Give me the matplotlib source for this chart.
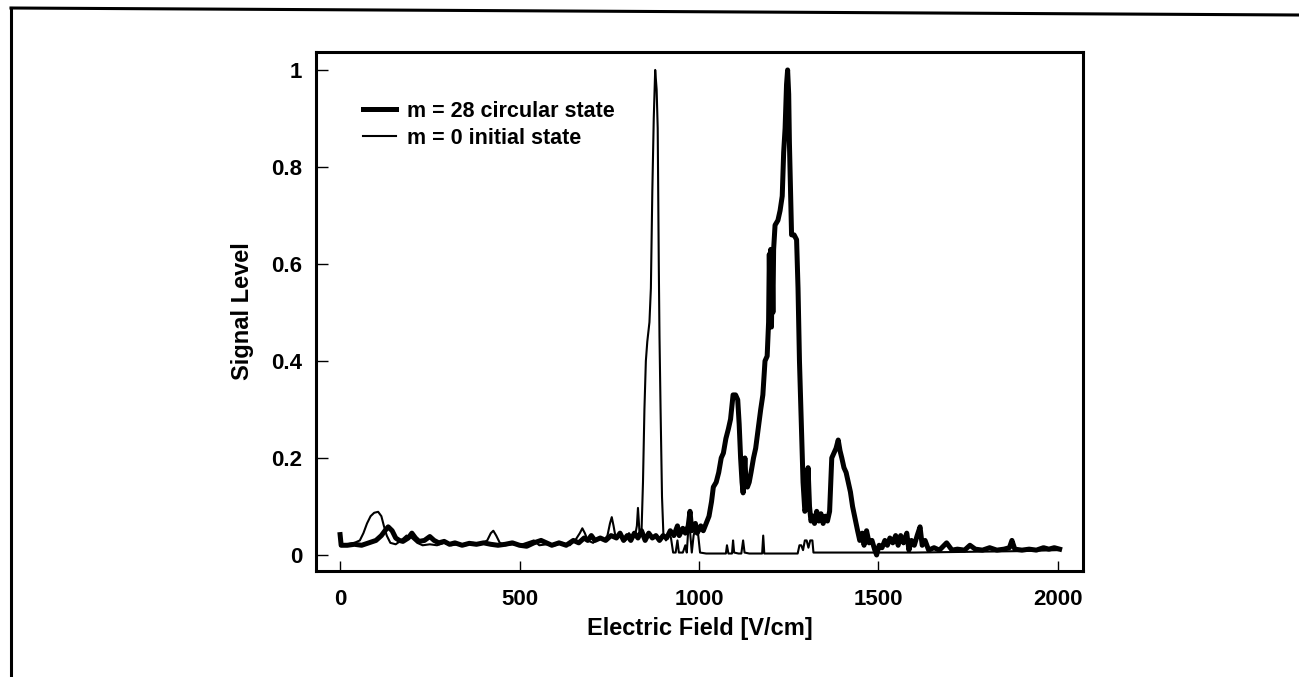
import matplotlib
matplotlib.use("Agg")
import matplotlib.pyplot as plt
from matplotlib.lines import Line2D

plt.rcParams['font.family'] = ['Liberation Sans', 'DejaVu Sans']
plt.rcParams['font.weight'] = 'bold'
plt.rcParams['axes.labelweight'] = 'bold'

# m = 28 circular state (field in V/cm, normalised signal)
field_circ = [0, 3, 20, 40, 60, 80, 100, 115, 125, 134, 145, 155, 165, 175, 190, 200,
              210, 220, 235, 250, 262, 275, 290, 305, 320, 340, 360, 380, 400, 420, 440,
              460, 480, 500, 520, 540, 560, 575, 590, 610, 630, 650, 665, 680, 690, 700,
              710, 725, 740, 755, 770, 780, 790, 800, 810, 820, 830, 840, 850, 860, 870,
              880, 890, 900, 910, 920, 930, 940, 945, 955, 962, 970, 975, 980, 990, 995,
              1005, 1012, 1020, 1028, 1035, 1040, 1048, 1055, 1062, 1068, 1075, 1082, 1088,
              1095, 1102, 1108, 1112, 1116, 1120, 1123, 1126, 1128, 1131, 1135, 1140, 1145,
              1152, 1158, 1165, 1172, 1178, 1184, 1190, 1194, 1196, 1198, 1200, 1202, 1204,
              1206, 1208, 1212, 1220, 1226, 1232, 1236, 1240, 1244, 1247, 1250, 1252, 1255,
              1258, 1265, 1272, 1276, 1280, 1284, 1290, 1295, 1300, 1304, 1308, 1312, 1318,
              1322, 1328, 1334, 1340, 1346, 1352, 1358, 1364, 1370, 1376, 1382, 1388, 1393,
              1398, 1404, 1410, 1416, 1422, 1428, 1435, 1442, 1448, 1455, 1460, 1467, 1474,
              1482, 1490, 1495, 1502, 1510, 1518, 1525, 1532, 1540, 1548, 1555, 1562, 1570,
              1579, 1585, 1592, 1600, 1608, 1616, 1622, 1630, 1640, 1655, 1670, 1690, 1705,
              1720, 1740, 1755, 1770, 1790, 1810, 1830, 1850, 1865, 1872, 1880, 1900, 1920,
              1940, 1960, 1975, 1990, 2005]
signal_circ = [0.042, 0.02, 0.02, 0.022, 0.02, 0.025, 0.03, 0.04, 0.05, 0.058, 0.05, 0.035,
               0.03, 0.028, 0.035, 0.045, 0.035, 0.028, 0.03, 0.038, 0.03, 0.025, 0.028,
               0.022, 0.025, 0.02, 0.024, 0.022, 0.025, 0.022, 0.02, 0.022, 0.025, 0.02,
               0.018, 0.025, 0.03, 0.025, 0.02, 0.025, 0.02, 0.03, 0.025, 0.035, 0.03, 0.04,
               0.03, 0.035, 0.03, 0.04, 0.035, 0.045, 0.03, 0.04, 0.03, 0.045, 0.035, 0.05,
               0.03, 0.045, 0.035, 0.04, 0.03, 0.04, 0.035, 0.05, 0.04, 0.06, 0.04, 0.055,
               0.045, 0.06, 0.09, 0.05, 0.065, 0.045, 0.06, 0.05, 0.065, 0.08, 0.11, 0.14,
               0.15, 0.17, 0.2, 0.21, 0.24, 0.26, 0.28, 0.33, 0.33, 0.32, 0.27, 0.2, 0.15,
               0.128, 0.17, 0.2, 0.15, 0.14, 0.15, 0.17, 0.2, 0.22, 0.26, 0.3, 0.33, 0.4,
               0.41, 0.48, 0.62, 0.5, 0.63, 0.47, 0.6, 0.5, 0.63, 0.68, 0.69, 0.71, 0.74,
               0.83, 0.88, 0.97, 1.0, 0.95, 0.85, 0.75, 0.66, 0.66, 0.65, 0.55, 0.4, 0.3,
               0.15, 0.09, 0.1, 0.18, 0.1, 0.07, 0.08, 0.065, 0.09, 0.07, 0.085, 0.065, 0.08,
               0.07, 0.09, 0.2, 0.21, 0.22, 0.237, 0.215, 0.2, 0.18, 0.17, 0.15, 0.13, 0.1,
               0.075, 0.05, 0.03, 0.045, 0.02, 0.05, 0.025, 0.03, 0.01, 0.0, 0.02, 0.015,
               0.03, 0.02, 0.035, 0.025, 0.04, 0.02, 0.04, 0.025, 0.045, 0.01, 0.03, 0.02,
               0.04, 0.058, 0.02, 0.03, 0.01, 0.015, 0.01, 0.025, 0.01, 0.012, 0.01, 0.02,
               0.012, 0.01, 0.015, 0.01, 0.012, 0.015, 0.03, 0.012, 0.01, 0.012, 0.01, 0.015,
               0.012, 0.015, 0.012]

# m = 0 initial state
field_init = [0, 20, 40, 55, 65, 75, 85, 95, 106, 115, 122, 130, 140, 155, 170, 185, 200,
              215, 230, 250, 270, 290, 310, 330, 350, 370, 390, 410, 420, 427, 435, 445,
              460, 480, 500, 520, 540, 555, 575, 600, 620, 640, 655, 668, 675, 682, 690,
              705, 720, 735, 745, 752, 757, 762, 768, 780, 795, 805, 815, 822, 827, 830,
              834, 840, 844, 848, 852, 856, 862, 866, 870, 874, 878, 882, 885, 888, 890,
              893, 897, 901, 908, 915, 922, 928, 935, 940, 944, 955, 962, 966, 970, 975,
              980, 985, 992, 998, 1003, 1020, 1040, 1060, 1075, 1078, 1082, 1092, 1095,
              1098, 1110, 1118, 1123, 1127, 1140, 1160, 1176, 1179, 1182, 1200, 1230, 1260,
              1275, 1280, 1285, 1290, 1295, 1300, 1305, 1310, 1316, 1319, 1350, 1400, 1448,
              1500, 1600, 1700, 1800, 1900, 2000]
signal_init = [0.02, 0.022, 0.025, 0.03, 0.045, 0.065, 0.08, 0.087, 0.089, 0.08, 0.06, 0.04,
               0.025, 0.022, 0.03, 0.04, 0.035, 0.025, 0.02, 0.022, 0.02, 0.025, 0.02, 0.022,
               0.02, 0.025, 0.022, 0.03, 0.045, 0.05, 0.04, 0.025, 0.02, 0.022, 0.02, 0.025,
               0.03, 0.02, 0.022, 0.02, 0.025, 0.02, 0.03, 0.045, 0.055, 0.045, 0.03, 0.025,
               0.035, 0.03, 0.04, 0.065, 0.078, 0.06, 0.035, 0.04, 0.03, 0.045, 0.035, 0.04,
               0.06, 0.097, 0.05, 0.05, 0.15, 0.3, 0.4, 0.44, 0.48, 0.55, 0.75, 0.9, 1.0,
               0.96, 0.88, 0.6, 0.45, 0.3, 0.12, 0.04, 0.03, 0.045, 0.035, 0.005, 0.005,
               0.03, 0.005, 0.005, 0.02, 0.005, 0.05, 0.05, 0.005, 0.04, 0.06, 0.04, 0.005,
               0.003, 0.003, 0.003, 0.003, 0.02, 0.003, 0.003, 0.03, 0.005, 0.003, 0.003,
               0.03, 0.005, 0.003, 0.003, 0.003, 0.04, 0.003, 0.003, 0.003, 0.003, 0.003,
               0.02, 0.02, 0.01, 0.03, 0.03, 0.015, 0.03, 0.03, 0.005, 0.005, 0.005, 0.005,
               0.005, 0.005, 0.006, 0.007, 0.008, 0.01]

x_ticks = [0, 500, 1000, 1500, 2000]
y_ticks = [0, 0.2, 0.4, 0.6, 0.8, 1]
y_tick_labels = ['0', '0.2', '0.4', '0.6', '0.8', '1']
legend_labels = ['m = 28 circular state', 'm = 0 initial state']

fig = plt.figure(figsize=(12.99, 6.77), dpi=100)
ax = fig.add_axes([0.2433, 0.1566, 0.5904, 0.7666])

ax.plot(field_circ, signal_circ, color='black', lw=3.6, solid_joinstyle='round')
ax.plot(field_init, signal_init, color='black', lw=1.5)

ax.set_xlim(-67, 2070)
ax.set_ylim(-0.033, 1.037)
ax.set_xticks(x_ticks)
ax.set_xticklabels([str(v) for v in x_ticks])
ax.set_yticks(y_ticks)
ax.set_yticklabels(y_tick_labels)
ax.tick_params(axis='x', direction='in', length=7.5, width=1.0, pad=13, labelsize=16)
ax.tick_params(axis='y', direction='in', length=8.5, width=1.0, pad=10, labelsize=16)
for sp in ax.spines.values():
    sp.set_linewidth(2.2)

ax.set_xlabel('Electric Field [V/cm]', fontsize=17, fontweight='bold', labelpad=5)
ax.set_ylabel('Signal Level', fontsize=17, fontweight='bold', labelpad=12)

handles = [Line2D([], [], color='black', lw=3.6), Line2D([], [], color='black', lw=1.5)]
ax.legend(handles, legend_labels, loc='upper left', bbox_to_anchor=(0.061, 0.906),
          frameon=False, prop={'size': 15.5, 'weight': 'bold'}, handlelength=1.55,
          handletextpad=0.5, labelspacing=0.28, borderpad=0, borderaxespad=0)

# page frame
fig.add_artist(Line2D([11 / 1299, 11 / 1299], [0, 1 - 8 / 677], transform=fig.transFigure,
                      color='black', lw=2.2))
fig.add_artist(Line2D([11 / 1299, 1], [1 - 8 / 677, 1 - 15 / 677], transform=fig.transFigure,
                      color='black', lw=2.2))

fig.savefig('out.png', dpi=100, facecolor='white')
